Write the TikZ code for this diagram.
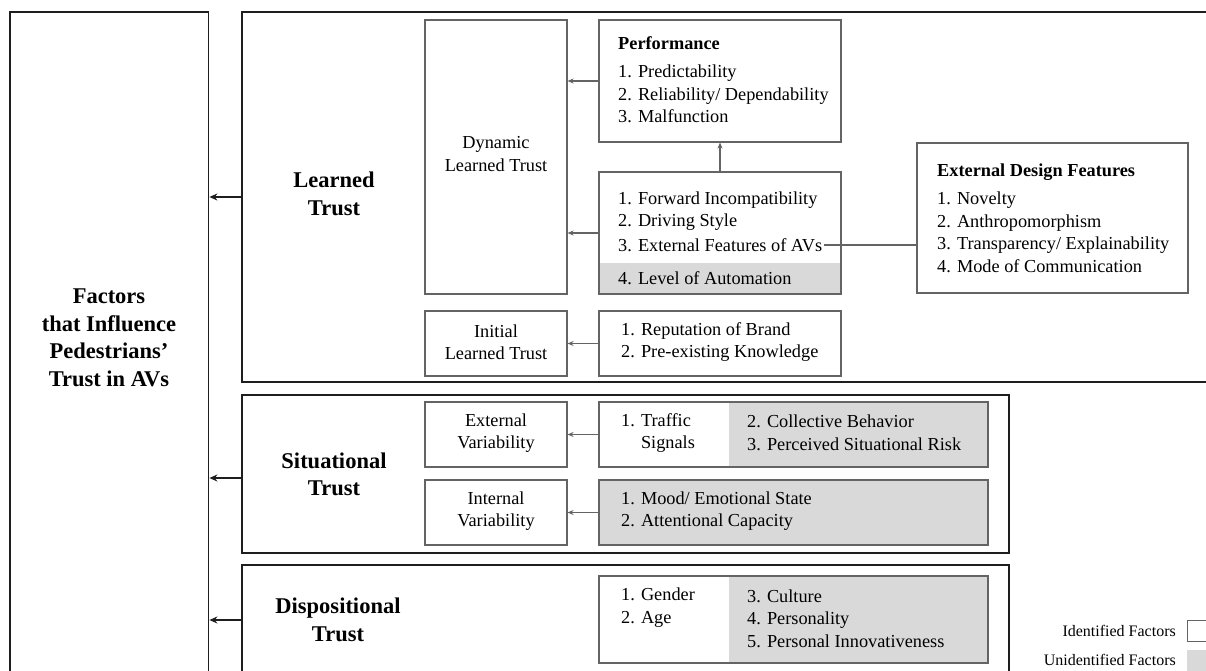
\documentclass[tikz,border=0pt]{standalone}
\usepackage{fontspec}
\setmainfont{Liberation Serif}
\usetikzlibrary{arrows.meta}
\definecolor{gfill}{RGB}{217,217,217}
\definecolor{iline}{RGB}{100,100,100}
\definecolor{oline}{RGB}{30,30,30}
\begin{document}
\begin{tikzpicture}[x=1pt,y=-1pt,
  outer/.style={draw=oline, line width=1.8pt, inner sep=0pt},
  ibox/.style={draw=iline, line width=1.1pt, inner sep=0pt},
  txt/.style={inner sep=0pt, align=left, anchor=west, font=\fontsize{18.3}{22.7}\selectfont},
  ctxt/.style={inner sep=0pt, align=center, font=\fontsize{18.3}{22.2}\selectfont},
  ttl/.style={inner sep=0pt, align=center, font=\bfseries\fontsize{22.5}{27.5}\selectfont},
  lgd/.style={inner sep=0pt, anchor=east, font=\fontsize{16}{19}\selectfont},
  oarr/.style={draw=oline, line width=1.2pt, -{Stealth[length=8pt,width=7pt]}},
  iarr/.style={draw=iline, line width=1.1pt, -{Stealth[length=6pt,width=5pt]}}
]
\clip (0,0) rectangle (1206,671);
\fill[white] (0,0) rectangle (1206,671);

% grey fills
\fill[gfill] (599,263) rectangle (841,294);
\fill[gfill] (729,402) rectangle (988,467);
\fill[gfill] (599,480) rectangle (988,545);
\fill[gfill] (729,576) rectangle (988,663);

% outer boxes
\node[outer, minimum width=198.5pt, minimum height=708pt] (fac) at (109.25,366) {};
\node[outer, minimum width=988pt, minimum height=370pt] (learned) at (736,197) {};
\node[outer, minimum width=767pt, minimum height=158pt] (sit) at (625.5,474) {};
\node[outer, minimum width=767pt, minimum height=110pt] (disp) at (625.5,620) {};

% inner boxes
\node[ibox, minimum width=142pt, minimum height=274pt] (dyn) at (496,157) {};
\node[ibox, minimum width=242pt, minimum height=122pt] (perf) at (720,81) {};
\node[ibox, minimum width=242pt, minimum height=122pt] (mid) at (720,233) {};
\node[ibox, minimum width=142pt, minimum height=65pt] (init) at (496,343.5) {};
\node[ibox, minimum width=242pt, minimum height=65pt] (rep) at (720,343.5) {};
\node[ibox, minimum width=271pt, minimum height=150pt] (edf) at (1052.5,218) {};
\node[ibox, minimum width=142pt, minimum height=65pt] (extv) at (496,434.5) {};
\node[ibox, minimum width=389pt, minimum height=65pt] (traf) at (793.5,434.5) {};
\node[ibox, minimum width=142pt, minimum height=65pt] (intv) at (496,512.5) {};
\node[ibox, minimum width=389pt, minimum height=65pt] (mood) at (793.5,512.5) {};
\node[ibox, minimum width=389pt, minimum height=87pt] (demo) at (793.5,619.5) {};

% legend
\node[draw=iline, line width=0.9pt, inner sep=0pt, minimum width=43pt, minimum height=21pt] (idbox) at (1208.5,630.5) {};
\node[fill=gfill, inner sep=0pt, minimum width=43pt, minimum height=50pt] (unbox) at (1208.5,675) {};
\node[lgd] (idtxt) at (1176,631) {Identified Factors};
\node[lgd] (untxt) at (1176,660) {Unidentified Factors};

% titles
\node[ttl] (factxt) at (109,338) {Factors\\that Influence\\Pedestrians'\\Trust in AVs};
\node[ttl] (learnedtxt) at (334,194) {Learned\\Trust};
\node[ttl] (sittxt) at (334,474.5) {Situational\\Trust};
\node[ttl] (disptxt) at (338,620) {Dispositional\\Trust};

% category labels
\node[ctxt] (dyntxt) at (496,154) {Dynamic\\Learned Trust};
\node[ctxt] (inittxt) at (496,342.5) {Initial\\Learned Trust};
\node[ctxt] (extvtxt) at (496,433) {External\\Variability};
\node[ctxt] (intvtxt) at (496,511) {Internal\\Variability};

% item texts
\node[txt] (perftxt) at (618,80) {\textbf{Performance}\\[5pt]1. Predictability\\2. Reliability/ Dependability\\3. Malfunction};
\node[txt] (midtxt) at (618,211) {1. Forward Incompatibility\\2. Driving Style};
\node[txt] (avs) at (618,245) {3. External Features of AVs};
\node[txt] (lvl) at (618,278) {4. Level of Automation};
\node[txt] (edftxt) at (937,218.5) {\textbf{External Design Features}\\[5pt]1. Novelty\\2. Anthropomorphism\\3. Transparency/ Explainability\\4. Mode of Communication};
\node[txt] (reptxt) at (621,342) {1. Reputation of Brand\\2. Pre-existing Knowledge};
\node[txt] (traftxt) at (621,433) {1. Traffic\\\phantom{1. }Signals};
\node[txt] (colltxt) at (747,433) {2. Collective Behavior\\3. Perceived Situational Risk};
\node[txt] (moodtxt) at (621,511) {1. Mood/ Emotional State\\2. Attentional Capacity};
\node[txt] (gendtxt) at (621,607.5) {1. Gender\\2. Age};
\node[txt] (culttxt) at (747,618.5) {3. Culture\\4. Personality\\5. Personal Innovativeness};

% connectors
\draw[oarr] (learned.west) -- (learned.west -| fac.east);
\draw[oarr] ([yshift=-4pt]sit.west) -- ([yshift=-4pt]sit.west -| fac.east);
\draw[oarr] (disp.west) -- (disp.west -| fac.east);
\draw[iarr] (perf.west) -- (perf.west -| dyn.east);
\draw[iarr] (mid.west) -- (mid.west -| dyn.east);
\draw[iarr] (mid.north) -- (perf.south);
\draw[iarr] (rep.west) -- (rep.west -| init.east);
\draw[iarr] (traf.west) -- (traf.west -| extv.east);
\draw[iarr] (mood.west) -- (mood.west -| intv.east);
\draw[draw=iline, line width=1.1pt] ([xshift=2pt]avs.east) -- (avs.east -| edf.west);
\end{tikzpicture}
\end{document}
